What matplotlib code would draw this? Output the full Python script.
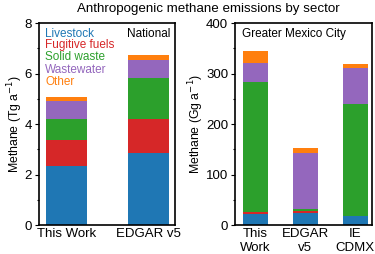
import matplotlib
matplotlib.use("Agg")
import matplotlib.pyplot as plt
from matplotlib.ticker import MultipleLocator

plt.rcParams['font.family'] = ['Liberation Sans', 'DejaVu Sans']

sectors = ["Livestock", "Fugitive fuels", "Solid waste", "Wastewater", "Other"]
colors = ["#1f77b4", "#d62728", "#2ca02c", "#9467bd", "#ff7f0e"]

nat_labels = ["This Work", "EDGAR v5"]
nat_values = {
    "Livestock":      [2.35, 2.84],
    "Fugitive fuels": [1.03, 1.38],
    "Solid waste":    [0.81, 1.61],
    "Wastewater":     [0.72, 0.70],
    "Other":          [0.16, 0.19],
}

city_labels = ["This\nWork", "EDGAR\nv5", "IE\nCDMX"]
city_values = {
    "Livestock":      [21, 23, 18],
    "Fugitive fuels": [4, 4, 0.5],
    "Solid waste":    [258, 5, 222],
    "Wastewater":     [37, 111, 70],
    "Other":          [25, 10, 9],
}

fig = plt.figure(figsize=(3.75, 2.54), dpi=100)
ax1 = fig.add_axes([0.104, 0.114, 0.363, 0.795])
ax2 = fig.add_axes([0.627, 0.114, 0.365, 0.795])

def stack(ax, labels, values):
    x = list(range(len(labels)))
    bottom = [0.0] * len(labels)
    for s, c in zip(sectors, colors):
        v = values[s]
        ax.bar(x, v, 0.5, bottom=bottom, color=c, label=s)
        bottom = [b + vv for b, vv in zip(bottom, v)]
    ax.set_xticks(x)
    ax.set_xticklabels(labels)

stack(ax1, nat_labels, nat_values)
stack(ax2, city_labels, city_values)

ax1.set_xlim(-0.335, 1.32)
ax1.set_ylim(0, 8)
ax1.yaxis.set_major_locator(MultipleLocator(2))
ax1.yaxis.set_minor_locator(MultipleLocator(1))
ax1.set_ylabel("Methane (Tg a$^{-1}$)", fontsize=8.8, labelpad=0)

ax2.set_xlim(-0.4, 2.34)
ax2.set_ylim(0, 400)
ax2.yaxis.set_major_locator(MultipleLocator(100))
ax2.yaxis.set_minor_locator(MultipleLocator(50))
ax2.set_ylabel("Methane (Gg a$^{-1}$)", fontsize=8.8, labelpad=0)

for ax in (ax1, ax2):
    ax.tick_params(axis='both', which='major', labelsize=9.5, length=3, width=0.8, pad=2)
    ax.tick_params(axis='x', length=0)
    ax.tick_params(axis='y', which='minor', length=1.5, width=0.8)
    for sp in ax.spines.values():
        sp.set_linewidth(1.2)

# legend as colored text
ys = [0.948, 0.89, 0.83, 0.77, 0.708]
for s, c, y in zip(sectors, colors, ys):
    ax1.text(0.045, y, s, color=c, fontsize=8.5, transform=ax1.transAxes, va='center', ha='left')
ax1.text(0.965, 0.948, "National", fontsize=8.5, transform=ax1.transAxes, va='center', ha='right')
ax2.text(0.05, 0.948, "Greater Mexico City", fontsize=8.5, transform=ax2.transAxes, va='center', ha='left')

fig.text(0.555, 0.99, "Anthropogenic methane emissions by sector", fontsize=9.6,
         ha='center', va='top')

fig.savefig("out.png", dpi=100)
